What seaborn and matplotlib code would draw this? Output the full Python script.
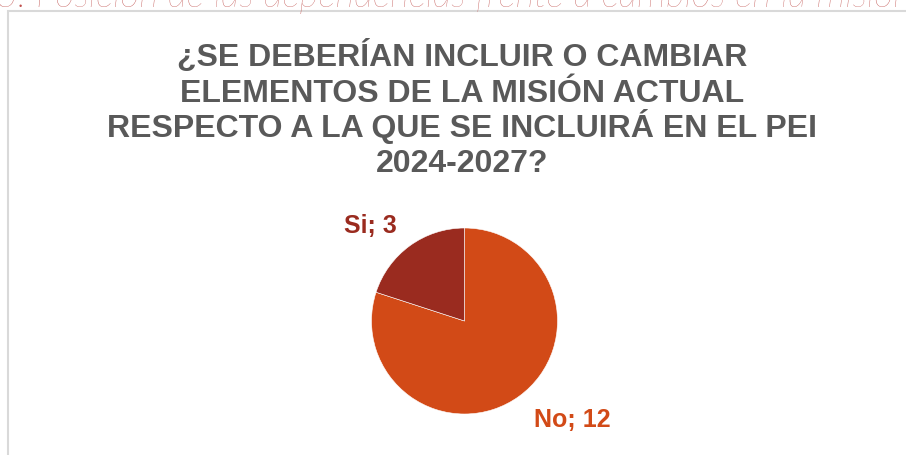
import matplotlib
matplotlib.use('Agg')
import matplotlib.pyplot as plt
import seaborn as sns
from matplotlib.patches import Rectangle

# data
labels = ['No', 'Si']
counts = [12, 3]
colors = ['#D24A17', '#9A2B1F']

header = '3. Posición de las dependencias frente a cambios en la misión'
title_lines = ['¿SE DEBERÍAN INCLUIR O CAMBIAR',
               'ELEMENTOS DE LA MISIÓN ACTUAL',
               'RESPECTO A LA QUE SE INCLUIRÁ EN EL PEI',
               '2024-2027?']

sns.set_theme(style='white')
plt.rcParams['font.family'] = ['Liberation Sans', 'DejaVu Sans']

W, H = 906, 456
fig = plt.figure(figsize=(W / 100, H / 100), dpi=100)
fig.patch.set_facecolor('white')


def px(x, y):
    return x / W, 1 - y / H


# cut-off section header above the chart
fig.text(*px(-4, 7), header, fontsize=26.8, color='#C0504D', fontstyle='italic',
         fontweight=200, family=['Lato', 'DejaVu Sans'], ha='left', va='baseline')

# chart frame
fig.patches.append(Rectangle(px(8, 470), (W + 20) / W, (470 - 12) / H,
                             transform=fig.transFigure, fill=False,
                             edgecolor='#D9D9D9', linewidth=1.5))

# title, one line at a time so the spacing stays even
for i, line in enumerate(title_lines):
    fig.text(*px(462, 66 + 35.5 * i), line, fontsize=23, fontweight='bold',
             color='#595959', ha='center', va='baseline')

# pie axes, centre (464, 322), radius 93 px
cx, cy, r = 464.5, 322, 93
ax = fig.add_axes([(cx - r) / W, 1 - (cy + r) / H, 2 * r / W, 2 * r / H])
wedges, _ = ax.pie(counts, colors=colors, startangle=90, counterclock=False,
                   radius=1, wedgeprops={'edgecolor': 'white', 'linewidth': 0.4})
ax.set_xlim(-1, 1)
ax.set_ylim(-1, 1)
ax.set_aspect('equal')
ax.axis('off')

label_pos = {'No': (1.156, -1.054), 'Si': (-1.016, 1.032)}
for lab, val, col in zip(labels, counts, colors):
    x, y = label_pos[lab]
    ax.text(x, y, f'{lab}; {val}', fontsize=18, fontweight='bold', color=col,
            ha='center', va='center', clip_on=False)

fig.savefig('out.png', dpi=100)
